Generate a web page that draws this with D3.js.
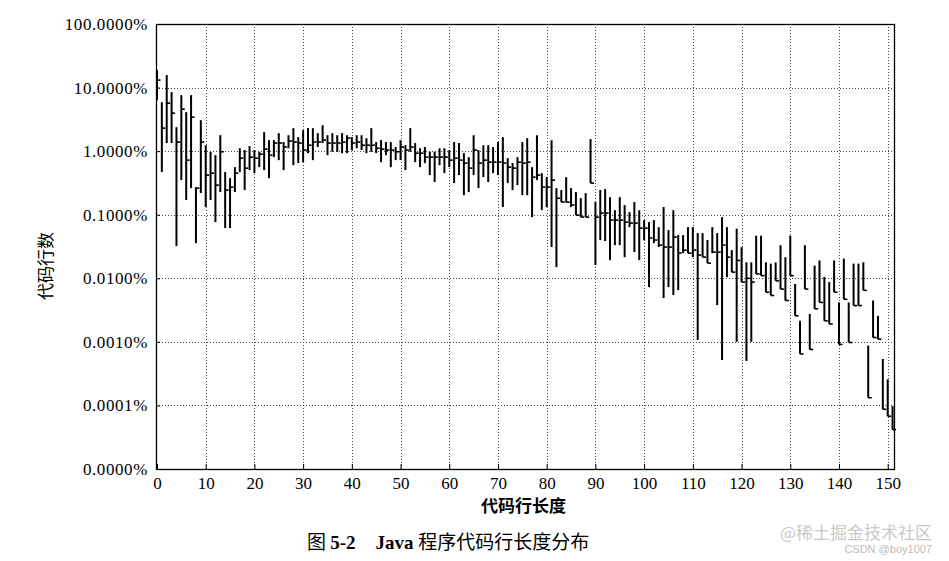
<!DOCTYPE html>
<html><head><meta charset="utf-8">
<script src="https://cdn.jsdelivr.net/npm/d3@7/dist/d3.min.js"></script>
<style>
html,body{margin:0;padding:0;background:#fff;}
svg{display:block;}
</style></head>
<body>
<svg id="chart" width="949" height="561"></svg>
<script>
// Line length categories (characters per line)
const lengths = d3.range(0, 152);
// Share of code lines (%) - high, low and close values
const highs = [18.8,5.89,15.7,8.47,2.38,7.60,4.10,7.60,0.272,3.07,
1.24,0.977,0.865,1.78,0.468,0.376,0.560,1.11,1.04,1.20,
1.04,0.977,1.99,1.49,1.49,1.92,1.39,1.78,2.30,1.66,
2.14,2.30,2.30,1.92,2.56,1.78,1.92,1.78,1.92,1.78,
1.66,1.78,1.78,1.60,2.30,1.39,1.49,1.39,1.39,1.16,
1.49,1.24,2.30,1.34,1.11,1.16,0.977,0.977,1.11,1.11,
1.04,1.39,1.34,0.930,0.805,1.78,1.04,1.24,1.24,1.16,
1.39,1.66,0.776,0.648,0.805,1.39,1.60,0.560,1.78,0.451,
0.390,1.49,0.262,0.244,0.390,0.262,0.227,0.182,0.219,1.55,
0.158,0.244,0.253,0.189,0.118,0.189,0.142,0.110,0.158,0.118,
0.0822,0.0765,0.0822,0.0638,0.132,0.0573,0.118,0.0478,0.0478,0.0638,
0.0638,0.0514,0.0514,0.0399,0.0638,0.0514,0.0917,0.0638,0.0277,0.0603,
0.0309,0.0178,0.0178,0.0468,0.0468,0.0178,0.0170,0.0178,0.0331,0.0214,
0.0468,0.00813,0.00214,0.0331,0.00275,0.0158,0.0191,0.0105,0.00871,0.0191,
0.00417,0.0204,0.00417,0.0170,0.0170,0.0178,0.000871,0.00447,0.00257,0.000537,
0.000257,0.0000977];
const lows = [6.34,0.468,1.34,1.34,0.0321,0.350,0.170,0.262,0.0357,0.219,
0.132,0.170,0.0765,0.227,0.0615,0.0615,0.227,0.468,0.244,0.503,
0.451,0.560,0.503,0.376,0.805,0.722,0.503,1.11,0.602,0.648,
0.671,0.930,0.722,1.16,1.34,0.865,0.977,0.977,0.930,0.930,
1.04,1.11,1.04,0.930,0.977,0.930,0.671,0.865,0.560,0.722,
0.722,0.503,0.977,0.671,0.560,0.648,0.420,0.326,0.602,0.451,
0.560,0.314,0.420,0.203,0.227,0.420,0.262,0.390,0.326,0.451,
0.420,0.132,0.314,0.244,0.292,0.203,0.203,0.0917,0.350,0.118,
0.132,0.0310,0.0150,0.158,0.156,0.132,0.0986,0.0917,0.0917,0.314,
0.0161,0.0399,0.0385,0.0193,0.0333,0.0333,0.0215,0.0638,0.0258,0.0193,
0.0399,0.00727,0.0357,0.0310,0.00489,0.00727,0.00544,0.00652,0.0249,0.0249,
0.0215,0.00107,0.0215,0.0173,0.0249,0.00379,0.000518,0.0104,0.0125,0.0010,
0.00871,0.000501,0.0010,0.0117,0.0110,0.00603,0.00537,0.00912,0.00676,0.00447,
0.0110,0.00257,0.000646,0.00676,0.000759,0.00331,0.00417,0.00214,0.00191,0.00603,
0.000912,0.00468,0.000977,0.00372,0.00372,0.00646,0.000132,0.00117,0.00110,0.0000871,
0.0000676,0.0000417];
const closes = [13.1,2.30,5.69,3.96,1.39,4.57,0.722,3.42,0.262,1.39,
0.420,0.451,0.292,0.977,0.244,0.272,0.451,0.776,0.540,0.805,
0.776,0.897,1.075,0.865,1.34,1.34,1.16,1.44,1.39,1.34,
1.04,1.24,1.39,1.39,1.49,1.34,1.34,1.34,1.39,1.60,
1.34,1.39,1.24,1.24,1.24,1.11,1.075,1.04,1.04,0.977,
1.16,1.04,1.16,0.930,0.930,0.805,0.805,0.805,0.805,0.805,
0.722,0.776,0.722,0.648,0.540,1.04,0.648,0.722,0.671,0.671,
0.671,0.648,0.560,0.540,0.671,0.648,0.671,0.390,0.420,0.272,
0.272,0.350,0.182,0.158,0.158,0.142,0.0986,0.0917,0.0917,0.314,
0.0917,0.106,0.106,0.0822,0.0822,0.0822,0.0765,0.0738,0.0738,0.0615,
0.0615,0.0429,0.0399,0.0333,0.0310,0.0310,0.0445,0.0249,0.0277,0.0249,
0.0277,0.0232,0.0215,0.0173,0.0258,0.0258,0.0333,0.0215,0.0125,0.0191,
0.00871,0.0100,0.00871,0.0117,0.0110,0.00603,0.00537,0.00912,0.00676,0.00447,
0.0110,0.00257,0.000646,0.00676,0.000759,0.00331,0.00417,0.00214,0.00191,0.00603,
0.000912,0.00468,0.000977,0.00372,0.00372,0.00646,0.000132,0.00117,0.00110,0.0000871,
0.0000676,0.0000417];
const xTicks = [0,10,20,30,40,50,60,70,80,90,100,110,120,130,140,150];
const yTicks = [0.00001,0.0001,0.001,0.01,0.1,1,10,100];
const yTitle = "代码行数";
const xTitle = "代码行长度";
const captionText = "Java 程序代码行长度分布";
const watermark1 = "@稀土掘金技术社区";
const watermark2 = "CSDN @boy1007";

const svg = d3.select("#chart");
const L = 156, R = 895, T = 24, B = 469;
const x = d3.scaleLinear().domain([-0.2, 151.5]).range([L, R]);
const y = d3.scaleLog().domain([0.00001, 100]).range([B, T]);
const serif = "'Liberation Serif','Times New Roman',serif";
const cjk = "'Noto Sans CJK SC','Liberation Serif',serif";

// grid
const grid = svg.append("g").attr("stroke", "#444").attr("stroke-width", 1).attr("stroke-dasharray", "1,2");
grid.selectAll("line.gx").data(xTicks.filter(d => d > 0)).join("line")
  .attr("x1", d => Math.round(x(d)) + 0.5).attr("x2", d => Math.round(x(d)) + 0.5)
  .attr("y1", T).attr("y2", B);
grid.selectAll("line.gy").data(yTicks.filter(d => d > 0.00001 && d < 100)).join("line")
  .attr("y1", d => Math.round(y(d)) + 0.5).attr("y2", d => Math.round(y(d)) + 0.5)
  .attr("x1", L).attr("x2", R);

// frame
svg.append("rect").attr("x", L + 0.5).attr("y", T + 0.5).attr("width", R - L - 1).attr("height", B - T)
  .attr("fill", "none").attr("stroke", "#000").attr("stroke-width", 1.3);

// axes
const xAxis = svg.append("g").attr("transform", `translate(0,${B})`)
  .call(d3.axisBottom(x).tickValues(xTicks).tickSize(-5).tickPadding(8).tickFormat(d3.format("d")));
xAxis.select(".domain").remove();
xAxis.selectAll("line").attr("stroke", "#000");
xAxis.selectAll("text").attr("font-family", serif).attr("font-size", 17).attr("fill", "#000");

const yAxis = svg.append("g").attr("transform", `translate(${L},0)`)
  .call(d3.axisLeft(y).tickValues(yTicks).tickSize(-4).tickPadding(8).tickFormat(d => d.toFixed(4) + "%"));
yAxis.select(".domain").remove();
yAxis.selectAll("line").attr("stroke", "#000");
yAxis.selectAll("text").attr("font-family", serif).attr("font-size", 17).attr("fill", "#000")
  .attr("letter-spacing", 0.6);

// bars (high-low-close)
const data = lengths.map((d, i) => ({len: d, hi: highs[i], lo: lows[i], cl: closes[i]}));
const bars = svg.append("g").attr("stroke", "#000");
bars.selectAll("line.hl").data(data).join("line")
  .attr("x1", d => x(d.len)).attr("x2", d => x(d.len))
  .attr("y1", d => y(d.hi)).attr("y2", d => y(d.lo))
  .attr("stroke-width", 2);
bars.selectAll("line.cl").data(data).join("line")
  .attr("x1", d => x(d.len)).attr("x2", d => x(d.len) + 3.5)
  .attr("y1", d => y(d.cl)).attr("y2", d => y(d.cl))
  .attr("stroke-width", 1.6);

// titles
svg.append("text").attr("transform", `translate(52,266) rotate(-90)`)
  .attr("text-anchor", "middle").attr("font-family", cjk).attr("font-size", 17).text(yTitle);
svg.append("text").attr("x", (L + R) / 2 - 2).attr("y", 512).attr("text-anchor", "middle")
  .attr("font-family", cjk).attr("font-weight", "bold").attr("font-size", 17).text(xTitle);
const cap = svg.append("text").attr("x", 307).attr("y", 549).attr("font-size", 19).attr("fill", "#000");
cap.append("tspan").attr("font-family", cjk).text("图 ");
cap.append("tspan").attr("font-family", serif).attr("font-weight", "bold").text("5-2");
cap.append("tspan").attr("dx", 20).attr("font-family", serif).attr("font-weight", "bold").text("Java ");
cap.append("tspan").attr("font-family", cjk).text("程序代码行长度分布");

svg.append("text").attr("x", 932).attr("y", 539).attr("text-anchor", "end")
  .attr("font-family", cjk).attr("font-size", 17).attr("fill", "#c9c9c9").text(watermark1);
svg.append("text").attr("x", 932).attr("y", 553).attr("text-anchor", "end")
  .attr("font-family", "'Liberation Sans',sans-serif").attr("font-size", 11).attr("fill", "#bdbdbd").text(watermark2);
</script>
</body></html>
